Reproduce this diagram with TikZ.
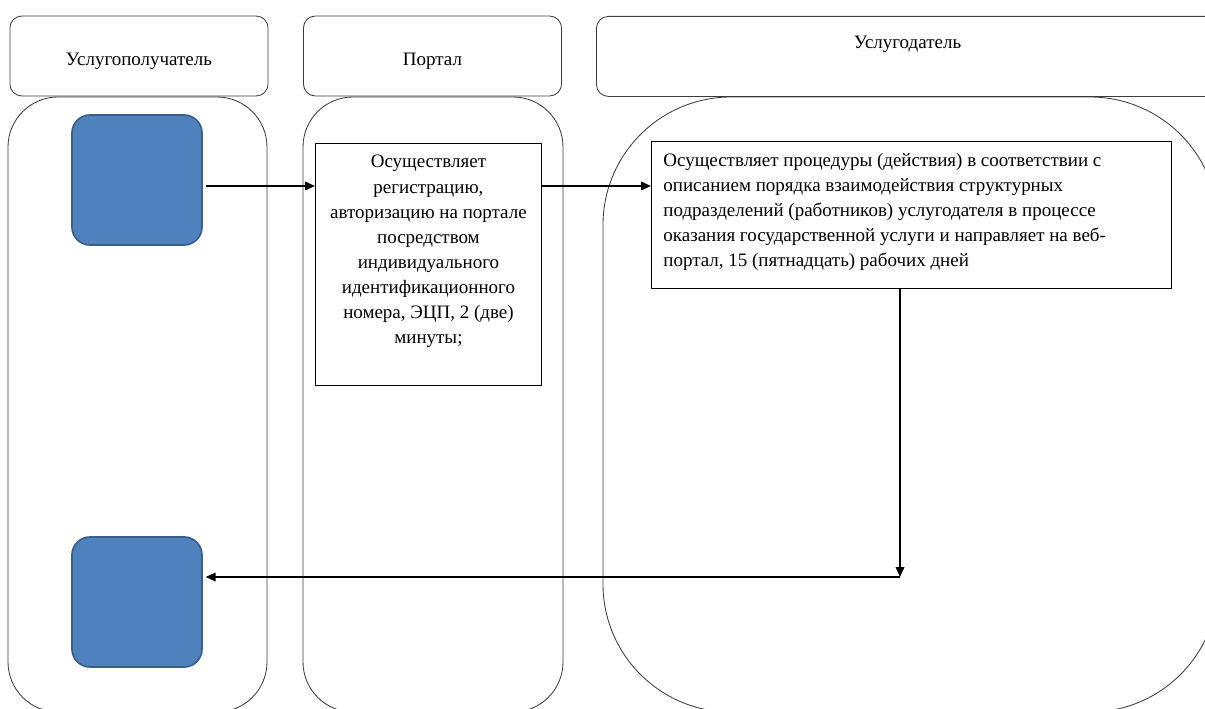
\documentclass[tikz,border=0pt]{standalone}
\usepackage{fontspec}
\setmainfont{Liberation Serif}
\usetikzlibrary{positioning,arrows.meta}
\definecolor{laneline}{RGB}{60,60,60}
\definecolor{clientblue}{RGB}{79,129,189}
\definecolor{clientedge}{RGB}{58,95,140}

\begin{document}
\begin{tikzpicture}[
		x=0.025cm, y=-0.025cm,
		font=\fontsize{13.5}{17.8}\selectfont,
		lane/.style={draw=laneline, line width=0.6pt},
		head/.style={rectangle, draw=laneline, line width=0.6pt, rounded corners=0.3cm, minimum width=6.45cm, minimum height=2cm, align=center, text height=13pt, text depth=0pt},
		client/.style={rectangle, draw=clientedge, line width=1.2pt, fill=clientblue, rounded corners=0.45cm, minimum width=3.25cm, minimum height=3.25cm},
		proc/.style={rectangle, draw, line width=0.6pt, anchor=north west},
		arrow/.style={-{Triangle[length=7pt,width=6pt]}, line width=1.3pt}
	]
	\useasboundingbox (0,0) rectangle (1205,709);
	\clip (0,0) rectangle (1205,709);

	% Lanes
	\draw[lane, rounded corners=1.25cm] (8,97) rectangle (267,712);
	\draw[lane, rounded corners=1.25cm] (303,97) rectangle (563,712);
	\draw[lane, rounded corners=3.2cm] (603,97) rectangle (1218,712);

	\node[head] (head1) at (139,56) {Услугополучатель};
	\node[head] (head2) at (432.5,56) {Портал};
	\node[head, anchor=north west, minimum width=15.55cm,
		label={[anchor=north, yshift=-0.37cm]north:Услугодатель}] (head3) at (596,16) {};

	% Steps
	\node[client] (client1) at (137,180) {};
	\node[client] (client2) at (137,602) {};

	\node[proc, inner xsep=0.2cm, inner ysep=0.3cm] (portal) at (315,143)
		{\parbox[t][5.45cm][t]{5.25cm}{\centering Осуществляет\\ регистрацию,\\ авторизацию на портале\\ посредством\\ индивидуального\\ идентификационного\\ номера, ЭЦП, 2 (две)\\ минуты;}};

	\node[proc, inner xsep=0.3cm, inner ysep=0.29cm] (service) at (651,141)
		{\parbox[t][3.1cm][t]{12.4cm}{\raggedright Осуществляет процедуры (действия) в соответствии с\\ описанием порядка взаимодействия структурных\\ подразделений (работников) услугодателя в процессе\\ оказания государственной услуги и направляет на веб-\\ портал, 15 (пятнадцать) рабочих дней}};

	% Flow
	\coordinate (row1) at (0,186);
	\coordinate (turn) at (900,577);

	\draw[arrow, shorten <=2pt] (client1.east |- row1) -- (portal.west |- row1);
	\draw[arrow] (portal.east |- row1) -- (service.west |- row1);
	\draw[arrow] (service.south -| turn) -- (turn);
	\draw[arrow, shorten >=2pt] (turn) -- (client2.east |- turn);

\end{tikzpicture}
\end{document}
